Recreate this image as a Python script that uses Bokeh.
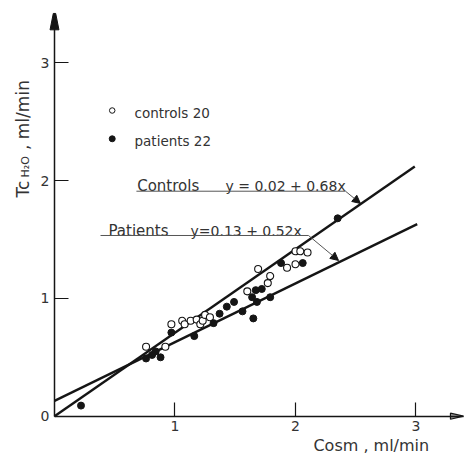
import numpy as np
from bokeh.plotting import figure
from bokeh.models import FixedTicker, Label, Arrow, NormalHead
from bokeh.core.properties import value
from bokeh.embed import file_html
from bokeh.resources import INLINE

# ---- data ----
controls_x = [0.76, 0.92, 0.97, 1.06, 1.08, 1.13, 1.18, 1.21, 1.23, 1.25, 1.29,
              1.60, 1.69, 1.77, 1.79, 1.93, 2.00, 2.00, 2.04, 2.10]
controls_y = [0.59, 0.59, 0.78, 0.81, 0.78, 0.81, 0.82, 0.78, 0.81, 0.86, 0.84,
              1.06, 1.25, 1.13, 1.19, 1.26, 1.29, 1.40, 1.40, 1.39]
patients_x = [0.22, 0.76, 0.81, 0.84, 0.88, 0.97, 1.16, 1.32, 1.37, 1.43, 1.49,
              1.56, 1.65, 1.64, 1.68, 1.67, 1.72, 1.79, 1.88, 2.06, 2.35]
patients_y = [0.09, 0.49, 0.52, 0.55, 0.50, 0.71, 0.68, 0.79, 0.87, 0.93, 0.97,
              0.89, 0.83, 1.01, 0.97, 1.07, 1.08, 1.01, 1.30, 1.30, 1.68]
controls_line_x = [0.0, 2.99]
controls_line_y = [0.0, 2.12]
patients_line_x = [0.0, 3.01]
patients_line_y = [0.13, 1.63]
x_ticks = [1, 2, 3]
y_ticks = [0, 1, 2, 3]
legend_labels = ["controls 20", "patients 22"]
fit_names = ["Controls", "Patients"]
fit_equations = ["y = 0.02 + 0.68x", "y=0.13 + 0.52x"]
x_title = "Cosm , ml/min"

FONT = "DejaVu Sans"
TXT = "#333333"
INK = "#151515"
X_AX_END, Y_AX_END = 3.394, 3.419

p = figure(width=464, height=456, x_range=(-0.4481, 3.4025), y_range=(-0.3421, 3.5289),
           output_backend="svg", toolbar_location=None, min_border=0)
p.grid.visible = False
p.outline_line_color = None
p.background_fill_color = "white"

for ax, ticks, bnd in ((p.xaxis, x_ticks, X_AX_END), (p.yaxis, y_ticks, Y_AX_END)):
    ax.fixed_location = 0
    ax.bounds = (0, bnd)
    ax.ticker = FixedTicker(ticks=ticks)
    ax.minor_tick_line_color = None
    ax.major_tick_in = 14
    ax.major_tick_out = 0
    ax.major_tick_line_color = INK
    ax.major_tick_line_width = 1.2
    ax.axis_line_color = INK
    ax.axis_line_width = 1.5
    ax.major_label_text_font = FONT
    ax.major_label_text_font_size = "14px"
    ax.major_label_text_color = TXT
    ax.major_label_standoff = 5

# axis arrow heads
p.patch([-0.037, 0.037, 0.010, -0.010], [3.28, 3.28, Y_AX_END, Y_AX_END],
        fill_color=INK, line_color=INK)
p.patch([3.286, 3.286, X_AX_END], [-0.026, 0.026, 0.0],
        fill_color="#9a9a9a", line_color=INK, line_width=1.2)

# regression lines
p.line(controls_line_x, controls_line_y, line_color=INK, line_width=2.4)
p.line(patients_line_x, patients_line_y, line_color=INK, line_width=2.4)

# points
p.scatter(controls_x, controls_y, marker="circle", size=7, fill_color="white",
          line_color=INK, line_width=1.1)
p.scatter(patients_x, patients_y, marker="circle", size=7, fill_color=INK,
          line_color=INK)

# legend
p.scatter([0.479], [2.595], marker="circle", size=5.5, fill_color="white",
          line_color=INK, line_width=1.0)
p.scatter([0.479], [2.355], marker="circle", size=6, fill_color=INK, line_color=INK)
p.text([0.664, 0.664], [2.572, 2.334], text=legend_labels, text_font=value(FONT),
       text_font_size="13.5px", text_color=TXT, text_baseline="alphabetic")

# fit annotations
p.text([0.686, 0.448], [1.950, 1.576], text=fit_names, text_font=value(FONT),
       text_font_size="15px", text_color=TXT, text_baseline="alphabetic")
p.text([1.419, 1.129], [1.950, 1.576], text=fit_equations, text_font=value(FONT),
       text_font_size="14px", text_color=TXT, text_baseline="alphabetic")
p.line([0.680, 2.415], [1.910, 1.910], line_color="#555555", line_width=1)
p.line([0.382, 2.108], [1.534, 1.534], line_color="#555555", line_width=1)
p.add_layout(Arrow(end=NormalHead(size=8, fill_color=INK, line_color=INK),
                   x_start=2.415, y_start=1.910, x_end=2.539, y_end=1.806,
                   line_color="#555555", line_width=1))
p.add_layout(Arrow(end=NormalHead(size=8, fill_color=INK, line_color=INK),
                   x_start=2.108, y_start=1.534, x_end=2.357, y_end=1.322,
                   line_color="#555555", line_width=1))

# axis titles
p.add_layout(Label(x=2.149, y=-0.245, text=x_title, text_font=FONT,
                   text_font_size="16px", text_color=TXT, text_baseline="alphabetic"))
p.add_layout(Label(x=-0.2614, y=1.857, text="Tc", angle=np.pi / 2, text_font=FONT,
                   text_font_size="17px", text_color=TXT, text_baseline="alphabetic"))
p.add_layout(Label(x=-0.240, y=2.026, text="H\u2082O", angle=np.pi / 2, text_font=FONT,
                   text_font_size="11px", text_color=TXT, text_baseline="alphabetic"))
p.add_layout(Label(x=-0.2614, y=2.260, text=", ml/min", angle=np.pi / 2, text_font=FONT,
                   text_font_size="17px", text_color=TXT, text_baseline="alphabetic"))

open("out.html", "w").write(file_html(p, INLINE))
